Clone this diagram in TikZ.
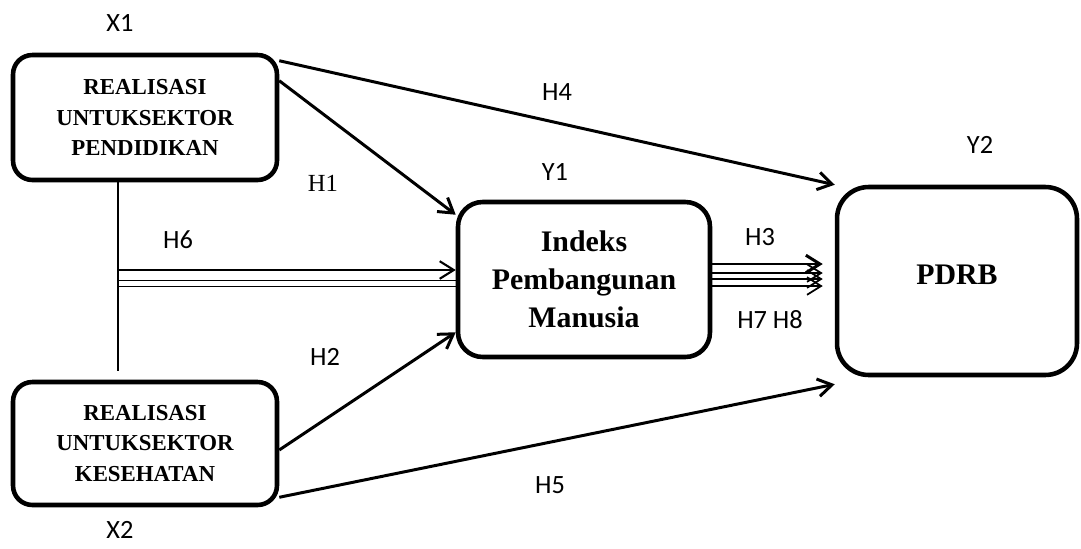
\documentclass[tikz,border=0pt]{standalone}
\usepackage{fontspec}
\setmainfont{Liberation Serif}
\newfontfamily\labelfont{Carlito}
\usetikzlibrary{arrows.meta, calc}

\begin{document}
\begin{tikzpicture}[x=0.02cm, y=-0.02cm,
  varbox/.style={draw, line width=2.6pt, rounded corners=#1, align=center, inner sep=0pt},
  lbl/.style={font=\labelfont\fontsize{15}{18}\selectfont},
  hyp/.style={line width=1.7pt, -{Straight Barb[length=8pt,width=10pt,line width=1.7pt]}},
  dbl/.style={line width=0.9pt},
]
\useasboundingbox (0,0) rectangle (1081,548);

% Variables
\node[varbox=11pt, minimum width=5.28cm, minimum height=2.5cm,
      font=\fontsize{13}{17.5}\selectfont\bfseries] (x1) at (145,117.5)
  {REALISASI\\UNTUKSEKTOR\\PENDIDIKAN};
\node[varbox=11pt, minimum width=5.28cm, minimum height=2.46cm,
      font=\fontsize{13}{17.5}\selectfont\bfseries] (x2) at (145,443.5)
  {REALISASI\\UNTUKSEKTOR\\KESEHATAN};
\node[varbox=14pt, minimum width=5.04cm, minimum height=3.1cm,
      font=\fontsize{17}{21.8}\selectfont\bfseries] (y1) at (584,279.5)
  {Indeks\\Pembangunan\\Manusia};
\node[varbox=18pt, minimum width=4.8cm, minimum height=3.76cm,
      font=\fontsize{17}{21.8}\selectfont\bfseries] (y2) at (957,281)
  {\raisebox{0.26cm}{PDRB}};

% Variable labels
\node[lbl] (lx1) at (120,23) {X1};
\node[lbl] (lx2) at (120,530) {X2};
\node[lbl] (ly1) at (555,172) {Y1};
\node[lbl] (ly2) at (980,145) {Y2};

% Direct paths
\draw[hyp] ([yshift=-0.16cm]x1.north east) -- (y2.north west);
\draw[hyp] ([yshift=-0.56cm]x1.north east) -- ([yshift=-0.3cm]y1.north west);
\draw[hyp] ([yshift=-0.13cm]x2.east) -- ([yshift=0.54cm]y1.south west);
\draw[hyp] ([yshift=0.2cm]x2.south east) -- ([yshift=-0.14cm]y2.south west);

% Correlation line and H6
\coordinate (vtop) at ($(x1.south west)!0.4!(x1.south east)$);
\coordinate (vbot) at ($(x2.north west)!0.4!(x2.north east)$);
\draw[line width=0.8pt, shorten >=0.18cm] (vtop) -- (vbot);
\draw[dbl, -{Straight Barb[length=8pt,width=10pt,line width=1.2pt]}] (vtop |- 0,270) -- (y1.west |- 0,270);
\draw[dbl] (vtop |- 0,280.5) -- (y1.west |- 0,280.5);
\draw[dbl] (vtop |- 0,286.5) -- (y1.west |- 0,286.5);

% H3, H7, H8
\draw[hyp, shorten >=0.24cm] (y1.east |- 0,264) -- (y2.west |- 0,264);
\foreach \yy in {273,279,286}
  \draw[dbl, shorten >=0.24cm, -{Straight Barb[length=8pt,width=10pt,line width=1pt]}]
    (y1.east |- 0,\yy) -- (y2.west |- 0,\yy);

% Hypothesis labels
\node[lbl] (h4) at (557,92) {H4};
\node[font=\fontsize{14}{16}\selectfont] (h1) at (323,183) {H1};
\node[lbl] (h6) at (178,240) {H6};
\node[lbl] (h3) at (760,237) {H3};
\node[lbl] (h78) at (770,320) {H7 H8};
\node[lbl] (h2) at (325,357) {H2};
\node[lbl] (h5) at (550,485) {H5};
\end{tikzpicture}
\end{document}
